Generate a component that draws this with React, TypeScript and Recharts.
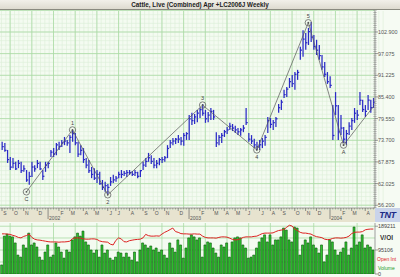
import React from "react";
import { ComposedChart, Bar, Line, XAxis, YAxis, CartesianGrid } from "recharts";

// weekly bars, Sep 2001 .. Apr 2004
const highs = [
  73.3, 73.0, 71.1, 69.2, 68.9, 67.9, 68.4, 67.9, 67.0, 65.7,
  65.2, 67.9, 67.0, 68.4, 67.9, 65.7, 67.9, 67.9, 71.1, 71.6,
  73.0, 73.3, 73.8, 74.6, 73.8, 75.1, 76.5, 75.7, 73.3, 72.4,
  71.6, 68.9, 68.4, 66.5, 66.2, 65.7, 65.2, 63.0, 62.5, 61.9,
  63.8, 64.4, 64.1, 65.2, 65.7, 65.4, 65.7, 65.7, 65.4, 65.7,
  65.2, 65.7, 67.9, 68.9, 70.3, 69.7, 68.9, 68.4, 68.9, 69.2,
  69.5, 72.4, 73.8, 74.3, 74.3, 75.1, 74.6, 75.7, 75.9, 80.5,
  81.1, 80.8, 81.9, 82.4, 83.5, 81.9, 81.3, 82.4, 81.9, 75.9,
  75.1, 75.7, 76.5, 77.3, 78.4, 78.1, 77.6, 77.0, 77.0, 77.8,
  82.4, 75.7, 75.1, 74.1, 73.3, 73.8, 74.3, 75.1, 80.0, 79.7,
  79.2, 80.0, 83.5, 84.6, 87.3, 88.1, 90.5, 91.3, 92.1, 92.7,
  98.9, 103.4, 102.6, 104.0, 105.6, 102.1, 100.8, 99.4, 96.7, 94.8,
  92.1, 91.0, 83.2, 86.7, 83.2, 80.5, 77.3, 76.5, 78.6, 79.7,
  82.4, 81.9, 86.7, 84.6, 83.2, 85.9, 84.6, 85.1,
];
const lows = [
  71.1, 70.6, 67.6, 65.7, 66.2, 65.7, 66.2, 64.9, 65.2, 62.5,
  61.7, 63.8, 65.2, 66.2, 65.7, 63.0, 65.2, 66.2, 69.2, 69.2,
  69.7, 71.1, 71.9, 72.4, 72.2, 70.3, 73.3, 72.4, 69.2, 69.7,
  67.6, 66.2, 64.9, 63.5, 63.0, 62.2, 61.7, 60.3, 59.8, 59.2,
  61.4, 62.2, 62.5, 63.5, 63.5, 64.1, 63.8, 64.4, 64.1, 64.1,
  63.5, 63.8, 65.7, 66.5, 67.9, 67.3, 66.2, 66.2, 67.0, 67.6,
  67.9, 68.9, 71.6, 72.4, 72.7, 73.0, 72.4, 72.2, 73.8, 73.8,
  77.8, 78.1, 78.6, 79.7, 80.3, 78.4, 78.6, 79.2, 79.2, 71.9,
  72.4, 73.0, 74.6, 75.4, 76.5, 76.2, 75.7, 75.1, 74.9, 75.9,
  77.8, 73.3, 72.7, 71.6, 71.1, 71.1, 71.6, 72.2, 75.7, 77.0,
  76.5, 77.3, 81.1, 81.9, 85.1, 85.4, 87.8, 88.1, 87.3, 90.0,
  95.4, 96.2, 98.1, 99.4, 100.2, 98.1, 96.7, 95.4, 92.7, 90.8,
  88.9, 87.8, 73.8, 80.5, 73.8, 75.1, 73.0, 72.4, 75.1, 76.5,
  78.4, 79.2, 83.2, 81.3, 80.0, 81.9, 81.1, 82.4,
];
const closes = [
  72.0, 71.0, 68.5, 66.5, 67.5, 66.0, 67.5, 65.5, 66.0, 63.0,
  64.0, 66.5, 66.0, 67.5, 66.0, 64.0, 67.0, 67.5, 70.5, 70.0,
  72.5, 72.0, 73.0, 73.5, 73.0, 74.5, 75.5, 73.0, 70.0, 71.0,
  68.5, 67.0, 65.5, 64.5, 63.5, 64.5, 62.0, 61.0, 61.5, 61.0,
  62.5, 63.0, 63.5, 64.5, 64.5, 64.8, 65.0, 65.0, 64.5, 65.0,
  64.0, 65.5, 67.0, 68.0, 69.0, 68.0, 67.0, 67.5, 68.5, 68.5,
  69.0, 71.5, 73.0, 73.5, 74.0, 74.0, 73.5, 75.0, 75.5, 79.5,
  79.0, 80.0, 81.0, 82.0, 81.0, 79.5, 80.5, 81.5, 80.0, 73.0,
  74.5, 75.0, 76.0, 76.5, 77.5, 77.0, 76.5, 76.0, 76.5, 77.0,
  78.5, 74.0, 73.5, 72.5, 72.0, 72.5, 73.5, 74.5, 79.0, 78.0,
  78.5, 79.5, 82.5, 84.0, 86.0, 87.5, 89.5, 89.0, 91.5, 92.0,
  98.0, 101.0, 100.0, 103.0, 101.5, 99.0, 98.0, 96.5, 93.5, 91.5,
  89.5, 88.5, 75.0, 83.0, 76.0, 77.0, 74.0, 75.5, 77.5, 79.0,
  81.0, 80.5, 84.5, 82.0, 81.5, 84.5, 82.5, 84.0,
];
// contracts, thousands
const volumeK = [
  36, 150, 158, 150, 147, 123, 75, 67, 115, 103,
  162, 115, 123, 107, 67, 55, 87, 115, 67, 75,
  123, 107, 87, 63, 95, 87, 135, 147, 162, 150,
  170, 127, 115, 95, 83, 95, 67, 115, 83, 95,
  63, 55, 67, 87, 83, 67, 83, 67, 55, 87,
  48, 95, 123, 115, 103, 111, 95, 103, 87, 95,
  75, 63, 123, 103, 87, 135, 115, 63, 103, 143,
  155, 147, 135, 143, 67, 115, 127, 123, 103, 83,
  67, 115, 107, 123, 67, 127, 143, 147, 143, 115,
  103, 63, 67, 75, 103, 127, 143, 155, 127, 155,
  115, 135, 135, 147, 182, 174, 135, 127, 186, 182,
  75, 115, 135, 123, 147, 115, 103, 83, 115, 48,
  75, 135, 127, 95, 75, 87, 103, 127, 75, 103,
  186, 115, 127, 155, 103, 115, 107, 95,
];
const openIntK = [
  159, 159, 158, 157, 153, 150, 145, 143, 149, 152,
  158, 145, 138, 135, 134, 132, 130, 128, 127, 127,
  127, 126, 127, 127, 128, 130, 140, 143, 143, 142,
  139, 138, 138, 139, 139, 137, 131, 128, 127, 126,
  118, 115, 133, 143, 139, 128, 127, 132, 134, 136,
  137, 138, 143, 157, 152, 150, 150, 151, 150, 158,
  165, 170, 176, 182, 168, 165, 160, 159, 159, 158,
  158, 159, 158, 158, 150, 145, 143, 143, 143, 142,
  145, 147, 147, 146, 142, 137, 135, 136, 140, 145,
  147, 147, 147, 149, 150, 155, 160, 162, 162, 162,
  163, 168, 172, 174, 176, 185, 193, 190, 178, 172,
  165, 162, 162, 160, 158, 152, 148, 146, 144, 138,
  136, 137, 141, 143, 143, 142, 143, 145, 150, 160,
  165, 166, 166, 168, 175, 177, 178, 178,
];

const priceTicks = [56.2, 62.025, 67.875, 73.7, 79.55, 85.4, 91.225, 97.075, 102.9];
const volTicks = [0, 95106, 189211];

// month starts (week index); January is marked by the year instead of a letter
const monthLabels = [
  "S", "O", "N", "D", "", "F", "M", "A", "M", "J", "J", "A", "S", "O", "N", "D",
  "", "F", "M", "A", "M", "J", "J", "A", "S", "O", "N", "D", "", "F", "M", "A",
];
const monthWeeks = [
  0, 4, 8, 13, 17, 21, 25, 30, 34, 39, 42, 47, 52, 56, 60, 65,
  69, 73, 78, 82, 86, 90, 95, 99, 103, 108, 112, 116, 121, 125, 129, 134,
];
const yearLabels = ["2002", "2003", "2004"];

// Elliott wave count
const waveLabels = ["C", "1", "2", "3", "4", "5", "A", ""];
const waveWeeks = [9, 26, 39, 74, 94, 113, 126, 137];
const wavePrices = [59.8, 76.5, 59.0, 83.2, 71.1, 105.4, 72.4, 82.8];
const waveAbove = [false, true, false, true, false, true, false, false];

const X_DOMAIN: [number, number] = [-0.74, 137.6];
const P_DOMAIN: [number, number] = [55.45, 108.56];
const FONT = "'Liberation Sans', Arial, sans-serif";

const data = highs.map((h, i) => {
  const w = waveWeeks.indexOf(i);
  return {
    i,
    range: [lows[i], h],
    high: h,
    low: lows[i],
    close: closes[i],
    vol: volumeK[i] * 1000,
    oi: openIntK[i] * 1000,
    wave: w >= 0 ? wavePrices[w] : null,
    w,
  };
});

// grid values (major every 8 weeks / one price step, minor 5 per major)
const step = (priceTicks[8] - priceTicks[0]) / 8;
const hMajor = [...priceTicks, priceTicks[8] + step];
const hMinor: number[] = [];
for (let k = -1; k <= 46; k++) hMinor.push(priceTicks[0] + (k * step) / 5);
const vMajor: number[] = [];
for (let k = 3; k < 138; k += 8) vMajor.push(k);
const vMinor: number[] = [];
for (let k = -2; k <= 86; k++) vMinor.push(3 + k * 1.6);
const ruler: number[] = [];
for (let k = -1; k <= 90; k++) ruler.push(priceTicks[0] + (k * step) / 10);
const weeks = data.map((d) => d.i);

function OhlcBar(props: any) {
  const { x, y, width, height, payload } = props;
  if (height == null || isNaN(y)) return null;
  const top = Math.min(y, y + height);
  const h = Math.abs(height);
  const cx = x + width / 2;
  const span = payload.high - payload.low || 1;
  const cy = top + (h * (payload.high - payload.close)) / span;
  return (
    <g stroke="#2a2ac6" strokeWidth={1.25}>
      <line x1={cx} x2={cx} y1={top} y2={top + h} />
      <line x1={cx} x2={cx + 1.6} y1={cy} y2={cy} />
    </g>
  );
}

function WaveDot(props: any) {
  const { cx, cy, payload } = props;
  if (cx == null || cy == null || payload.w < 0) return <g key={`wd${props.index}`} />;
  const label = waveLabels[payload.w];
  if (!label) return <g key={`wd${props.index}`} />;
  const above = waveAbove[payload.w];
  return (
    <g key={`wd${props.index}`}>
      <circle cx={cx} cy={cy} r={3.2} fill="none" stroke="#666" strokeWidth={0.8} />
      <circle cx={cx} cy={cy} r={0.9} fill="#555" />
      <text
        x={cx}
        y={above ? cy - 5 : cy + 9}
        textAnchor="middle"
        fontSize={5.5}
        fontFamily={FONT}
        fill="#444"
      >
        {label}
      </text>
    </g>
  );
}

function PriceTick(props: any) {
  const { x, y, payload } = props;
  return (
    <g>
      <line x1={x} x2={x + 3} y1={y} y2={y} stroke="#777" strokeWidth={0.7} />
      <text x={x + 3} y={y + 2} fontSize={5.4} fontFamily={FONT} fill="#555">
        {Number(payload.value).toFixed(3)}
      </text>
    </g>
  );
}

function RulerTick(props: any) {
  const { x, y } = props;
  return <line x1={x - 1.6} x2={x + 1.6} y1={y} y2={y} stroke="#888" strokeWidth={0.6} />;
}

function MonthTick(props: any) {
  const { x, y, payload } = props;
  const m = monthWeeks.indexOf(payload.value);
  if (m < 0) {
    return <line x1={x} x2={x} y1={y} y2={y + 1.5} stroke="#777" strokeWidth={0.6} />;
  }
  const label = monthLabels[m];
  if (!label) {
    const yr = yearLabels[monthLabels.slice(0, m).filter((l) => l === "").length];
    return (
      <g>
        <line x1={x} x2={x} y1={y} y2={y + 11} stroke="#666" strokeWidth={0.7} />
        <text x={x + 1} y={y + 12} fontSize={5} fontFamily={FONT} fill="#555">
          {yr}
        </text>
      </g>
    );
  }
  return (
    <g>
      <line x1={x} x2={x} y1={y} y2={y + 3} stroke="#666" strokeWidth={0.7} />
      <text x={x + 3} y={y + 7} textAnchor="middle" fontSize={5} fontFamily={FONT} fill="#555">
        {label}
      </text>
    </g>
  );
}

function VolTick(props: any) {
  const { x, y, payload } = props;
  return (
    <g>
      <line x1={x} x2={x + 3} y1={y} y2={y} stroke="#777" strokeWidth={0.7} />
      <text x={x + 3} y={y + 2} fontSize={5.4} fontFamily={FONT} fill="#444">
        {String(payload.value)}
      </text>
    </g>
  );
}

export default function App() {
  return (
    <div
      style={{
        position: "absolute",
        left: 0,
        top: 0,
        width: 400,
        height: 277,
        overflow: "hidden",
        background: "#f6fbf3",
        fontFamily: FONT,
      }}
    >
      <div
        style={{
          position: "absolute",
          left: 0,
          top: 0,
          width: 400,
          height: 10,
          background: "linear-gradient(#f2f0ea, #dedbd0)",
          borderBottom: "1px solid #8a8a80",
          boxSizing: "border-box",
          textAlign: "center",
          fontSize: 6.3,
          fontWeight: "bold",
          lineHeight: "9px",
          color: "#222",
        }}
      >
        Cattle, Live (Combined) Apr +LC2006J Weekly
      </div>
      <div
        style={{
          position: "absolute",
          left: 0,
          top: 208,
          width: 375,
          height: 14,
          background: "#e7e3cf",
        }}
      />
      <div
        style={{
          position: "absolute",
          left: 375,
          top: 208,
          width: 25,
          height: 14,
          background: "#c9d3ea",
          color: "#1b2a86",
          fontWeight: "bold",
          fontStyle: "italic",
          fontSize: 9,
          lineHeight: "14px",
          textAlign: "center",
          letterSpacing: -0.3,
        }}
      >
        TNT
      </div>
      <div style={{ position: "absolute", left: 0, top: 10 }}>
        <ComposedChart
          width={435}
          height={212}
          data={data}
          margin={{ top: 1, right: 0, bottom: 0, left: 0 }}
        >
          <CartesianGrid
            fill="#f4fbf1"
            stroke="#dcefd7"
            strokeWidth={0.6}
            horizontalValues={hMinor}
            verticalValues={vMinor}
          />
          <CartesianGrid
            stroke="#a9daa3"
            strokeWidth={0.8}
            horizontalValues={hMajor}
            verticalValues={vMajor}
          />
          <XAxis
            dataKey="i"
            type="number"
            domain={X_DOMAIN}
            allowDataOverflow
            ticks={weeks}
            interval={0}
            height={14}
            tickSize={0}
            tickMargin={0}
            tickLine={false}
            axisLine={{ stroke: "#888", strokeWidth: 0.8 }}
            tick={<MonthTick />}
          />
          <YAxis
            yAxisId="ruler"
            orientation="right"
            mirror
            domain={P_DOMAIN}
            allowDataOverflow
            ticks={ruler}
            interval={0}
            tickSize={0}
            tickMargin={0}
            tickLine={false}
            axisLine={false}
            tick={<RulerTick />}
          />
          <YAxis
            orientation="right"
            domain={P_DOMAIN}
            allowDataOverflow
            ticks={priceTicks}
            interval={0}
            width={60}
            tickSize={0}
            tickMargin={0}
            tickLine={false}
            axisLine={{ stroke: "#888", strokeWidth: 0.8 }}
            tick={<PriceTick />}
          />
          <Bar dataKey="range" barSize={1} shape={<OhlcBar />} isAnimationActive={false} />
          <Line
            dataKey="wave"
            connectNulls
            stroke="#555"
            strokeWidth={0.7}
            dot={<WaveDot />}
            activeDot={false}
            isAnimationActive={false}
          />
        </ComposedChart>
      </div>
      <div style={{ position: "absolute", left: 0, top: 222 }}>
        <ComposedChart
          width={400}
          height={55}
          data={data}
          margin={{ top: 1, right: 0, bottom: 3, left: 0 }}
          barGap={0}
        >
          <CartesianGrid
            fill="#f4fbf1"
            stroke="#a9daa3"
            strokeWidth={0.8}
            horizontalValues={[47553, 95106, 142658, 189211]}
            verticalValues={vMajor}
          />
          <XAxis dataKey="i" type="number" domain={X_DOMAIN} allowDataOverflow hide />
          <YAxis
            orientation="right"
            domain={[0, 202000]}
            allowDataOverflow
            ticks={volTicks}
            interval={0}
            width={25}
            tickSize={0}
            tickMargin={0}
            tickLine={false}
            axisLine={{ stroke: "#888", strokeWidth: 0.8 }}
            tick={<VolTick />}
          />
          <Bar
            dataKey="vol"
            barSize={2}
            fill="#2fc42f"
            stroke="#075507"
            strokeWidth={0.6}
            isAnimationActive={false}
          />
          <Line
            dataKey="oi"
            type="linear"
            stroke="#dd2222"
            strokeWidth={1}
            dot={false}
            activeDot={false}
            isAnimationActive={false}
          />
        </ComposedChart>
      </div>
      <div style={{ position: "absolute", left: 380, top: 234, fontSize: 6.5, fontWeight: "bold", color: "#333" }}>
        V/OI
      </div>
      <div style={{ position: "absolute", left: 377, top: 256, fontSize: 5, color: "#dd2222" }}>
        Open Int
      </div>
      <div style={{ position: "absolute", left: 378, top: 265, fontSize: 5, color: "#1e9a1e" }}>
        Volume
      </div>
    </div>
  );
}
